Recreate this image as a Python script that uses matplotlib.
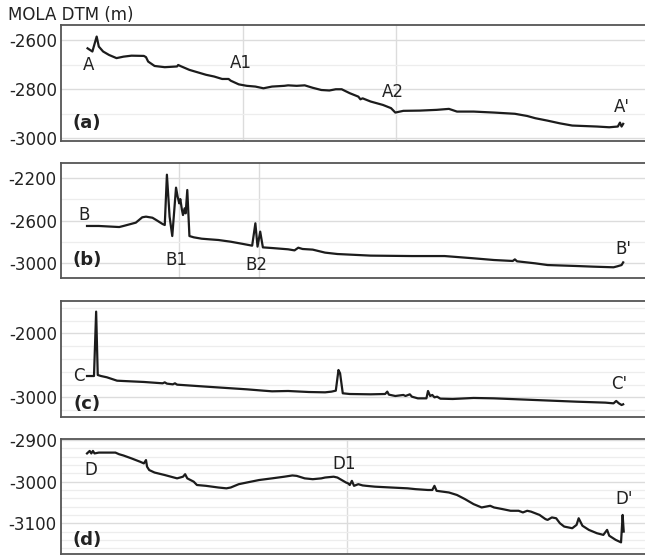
import numpy as np
import matplotlib
matplotlib.use("Agg")
import matplotlib.pyplot as plt
from matplotlib.ticker import MultipleLocator

plt.rcParams['axes.unicode_minus'] = False
plt.rcParams['font.family'] = 'DejaVu Sans'

# Profil A - A' (distance le long du profil en %, altitude MOLA en m)
dist_a = [0.1, 1.0, 1.8, 2.2, 3.0, 4.1, 5.5, 6.8, 8.3, 10.6, 11.0, 11.4, 12.6, 14.5, 16.8, 17.0,
          17.6, 19.1, 22.2, 23.7, 25.2, 26.4, 26.8, 28.3, 29.8, 31.4, 32.9, 34.5, 36.8, 37.5,
          39.1, 40.6, 42.1, 43.7, 45.2, 46.4, 47.5, 49.0, 50.6, 51.0, 51.4, 52.9, 55.2, 56.7,
          57.5, 59.0, 62.1, 65.2, 67.5, 69.0, 72.1, 75.9, 79.8, 82.1, 83.6, 85.9, 88.2, 90.5,
          92.8, 95.1, 97.4, 99.0, 99.4, 99.7, 100.0]
elev_a = [-2633, -2646, -2585, -2626, -2646, -2660, -2673, -2667, -2663, -2664, -2669, -2687,
          -2705, -2710, -2707, -2701, -2707, -2721, -2741, -2748, -2758, -2758, -2765, -2780,
          -2786, -2789, -2796, -2789, -2786, -2784, -2786, -2784, -2794, -2803, -2805, -2800,
          -2800, -2816, -2830, -2841, -2837, -2850, -2864, -2877, -2895, -2888, -2887, -2884,
          -2880, -2891, -2891, -2895, -2900, -2909, -2918, -2928, -2939, -2948, -2950, -2952,
          -2955, -2952, -2936, -2952, -2941]

# Profil B - B'
dist_b = [0.0, 2.2, 6.0, 6.8, 9.1, 10.3, 11.0, 12.2, 12.9, 14.1, 14.5, 14.9, 15.4, 15.9, 16.6,
          16.9, 17.2, 17.4, 17.7, 17.9, 18.2, 18.4, 18.7, 19.1, 19.9, 21.4, 22.9, 24.5, 26.8,
          29.1, 30.8, 31.4, 31.8, 32.3, 32.8, 34.5, 37.5, 38.7, 39.4, 40.2, 42.1, 44.4, 46.7,
          52.9, 60.6, 66.7, 72.1, 75.9, 79.4, 79.8, 80.2, 83.6, 85.9, 91.3, 94.4, 98.2, 98.9,
          99.7, 100.0]
elev_b = [-2651, -2651, -2661, -2651, -2620, -2570, -2564, -2574, -2595, -2633, -2642, -2172,
          -2564, -2745, -2293, -2377, -2440, -2400, -2500, -2549, -2486, -2533, -2315, -2745,
          -2757, -2770, -2776, -2782, -2798, -2819, -2835, -2626, -2844, -2704, -2851, -2857,
          -2869, -2879, -2854, -2866, -2872, -2900, -2913, -2928, -2932, -2932, -2953, -2969,
          -2978, -2963, -2981, -3000, -3016, -3025, -3031, -3037, -3028, -3016, -2991]

# Profil C - C'
dist_c = [0.0, 1.3, 1.7, 2.0, 2.6, 3.7, 5.6, 6.8, 10.6, 14.1, 14.5, 14.9, 16.0, 16.4, 16.8,
          22.2, 26.0, 29.8, 32.9, 34.5, 37.5, 41.4, 44.4, 45.6, 46.4, 46.9, 47.2, 47.7, 49.0,
          52.9, 55.6, 56.0, 56.3, 57.5, 59.0, 59.4, 60.2, 60.6, 61.7, 63.3, 63.6, 64.0, 64.4,
          64.8, 65.3, 65.9, 68.2, 72.1, 75.9, 83.6, 91.3, 96.7, 98.2, 98.7, 99.2, 99.7, 100.0]
elev_c = [-2667, -2667, -1661, -2651, -2667, -2687, -2740, -2745, -2760, -2781, -2766, -2786,
          -2797, -2781, -2802, -2833, -2854, -2875, -2896, -2906, -2901, -2917, -2922, -2911,
          -2896, -2573, -2625, -2937, -2948, -2953, -2948, -2911, -2958, -2979, -2963, -2979,
          -2953, -2990, -3016, -3016, -2901, -2979, -2963, -3000, -2990, -3021, -3026, -3010,
          -3016, -3042, -3068, -3083, -3094, -3057, -3094, -3120, -3109]

# Profil D - D'
dist_d = [0.0, 0.5, 0.8, 1.1, 1.4, 2.2, 3.7, 5.3, 6.0, 6.8, 8.3, 9.9, 10.6, 11.0, 11.2, 11.6,
          12.6, 14.5, 16.8, 17.9, 18.3, 18.7, 19.9, 20.5, 22.2, 24.5, 26.0, 26.8, 28.3, 29.8,
          32.1, 34.5, 36.8, 38.3, 39.1, 40.6, 42.1, 43.7, 44.4, 46.0, 46.7, 47.5, 48.3, 48.7,
          49.0, 49.4, 49.8, 50.6, 51.4, 52.1, 53.7, 56.7, 59.8, 61.3, 63.6, 64.4, 64.8, 65.2,
          67.5, 69.0, 70.5, 72.1, 73.6, 75.2, 75.9, 77.5, 79.0, 80.5, 81.3, 82.1, 82.8, 84.4,
          85.5, 85.9, 86.7, 87.5, 88.2, 89.0, 90.5, 91.3, 91.7, 92.4, 93.6, 95.1, 96.3, 97.0,
          97.4, 98.6, 99.6, 99.9, 100.1]
elev_d = [-2932, -2926, -2932, -2926, -2932, -2930, -2930, -2930, -2934, -2937, -2944, -2952,
          -2956, -2948, -2964, -2972, -2978, -2984, -2992, -2988, -2982, -2992, -3000, -3008,
          -3010, -3014, -3016, -3014, -3006, -3002, -2996, -2992, -2988, -2985, -2986, -2992,
          -2994, -2992, -2990, -2988, -2990, -2996, -3002, -3004, -3008, -2998, -3010, -3006,
          -3009, -3010, -3012, -3014, -3016, -3018, -3020, -3020, -3010, -3022, -3026, -3032,
          -3042, -3054, -3062, -3058, -3062, -3066, -3070, -3070, -3074, -3070, -3072, -3080,
          -3090, -3092, -3086, -3088, -3100, -3108, -3112, -3104, -3088, -3106, -3116, -3124,
          -3128, -3116, -3130, -3140, -3146, -3080, -3120]

# Etiquettes des points le long des profils
labels_a = ["A", "A1", "A2", "A'"]
label_pos_a = [(0.3, -2700), (28.7, -2694), (57.1, -2810), (99.7, -2873)]
labels_b = ["B", "B1", "B2", "B'"]
label_pos_b = [(-0.5, -2549), (16.6, -2969), (31.5, -3016), (100.1, -2869)]
labels_c = ["C", "C'"]
label_pos_c = [(-1.5, -2667), (99.3, -2792)]
labels_d = ["D", "D1", "D'"]
label_pos_d = [(0.7, -2972), (47.9, -2958), (100.1, -3042)]

# Graduations en altitude (m)
ticks_a = [-3000, -2800, -2600]
ticks_b = [-3000, -2600, -2200]
ticks_c = [-3000, -2000]
ticks_d = [-3100, -3000, -2900]

# Lignes verticales (position des points intermediaires)
vlines_a = [29.1, 57.6]
vlines_b = [17.2, 32.0]
vlines_c = []
vlines_d = [48.5]

panels = [
    ("(a)", dist_a, elev_a, labels_a, label_pos_a, vlines_a, (-3011, -2538), ticks_a, 100, 0.155),
    ("(b)", dist_b, elev_b, labels_b, label_pos_b, vlines_b, (-3137, -2063), ticks_b, 200, 0.157),
    ("(c)", dist_c, elev_c, labels_c, label_pos_c, vlines_c, (-3303, -1491), ticks_c, 200, 0.112),
    ("(d)", dist_d, elev_d, labels_d, label_pos_d, vlines_d, (-3174, -2898), ticks_d, 20, 0.12),
]
bottoms = [0.7464, 0.5, 0.2505, 0.0036]
heights = [0.2086, 0.2068, 0.2086, 0.2063]

fig = plt.figure(figsize=(6.45, 5.56), dpi=100)

for (tag, x, y, labs, lpos, vl, ylim, ticks, minor, tag_y), b, h in zip(panels, bottoms, heights):
    ax = fig.add_axes([0.0946, b, 0.9256, h])
    ax.set_xlim(-4.85, 106.5)
    ax.set_ylim(*ylim)
    ax.set_yticks(ticks)
    ax.yaxis.set_minor_locator(MultipleLocator(minor))
    ax.grid(True, which='major', axis='y', color='#dcdcdc', lw=1.0, zorder=0)
    ax.grid(True, which='minor', axis='y', color='#ededed', lw=0.9, zorder=0)
    for v in vl:
        ax.axvline(v, color='#dcdcdc', lw=1.0, zorder=0)
    ax.plot(x, y, color='#1c1c1c', lw=1.6, zorder=3)
    for t, (px, py) in zip(labs, lpos):
        ax.text(px, py, t, fontsize=12, color='#222222', ha='center', va='center', zorder=4)
    ax.text(0.043, tag_y, tag, transform=ax.transAxes, fontsize=13, fontweight='bold',
            ha='center', va='center', color='#222222')
    ax.set_xticks([])
    ax.tick_params(axis='y', which='both', length=0, pad=3, labelsize=12, labelcolor='#222222')
    for s in ax.spines.values():
        s.set_color('#555555')
        s.set_linewidth(1.3)

fig.text(8 / 645, 1 - 15 / 556, "MOLA DTM (m)", fontsize=12, ha='left', va='center', color='#222222')

fig.savefig("out.png", dpi=100)
